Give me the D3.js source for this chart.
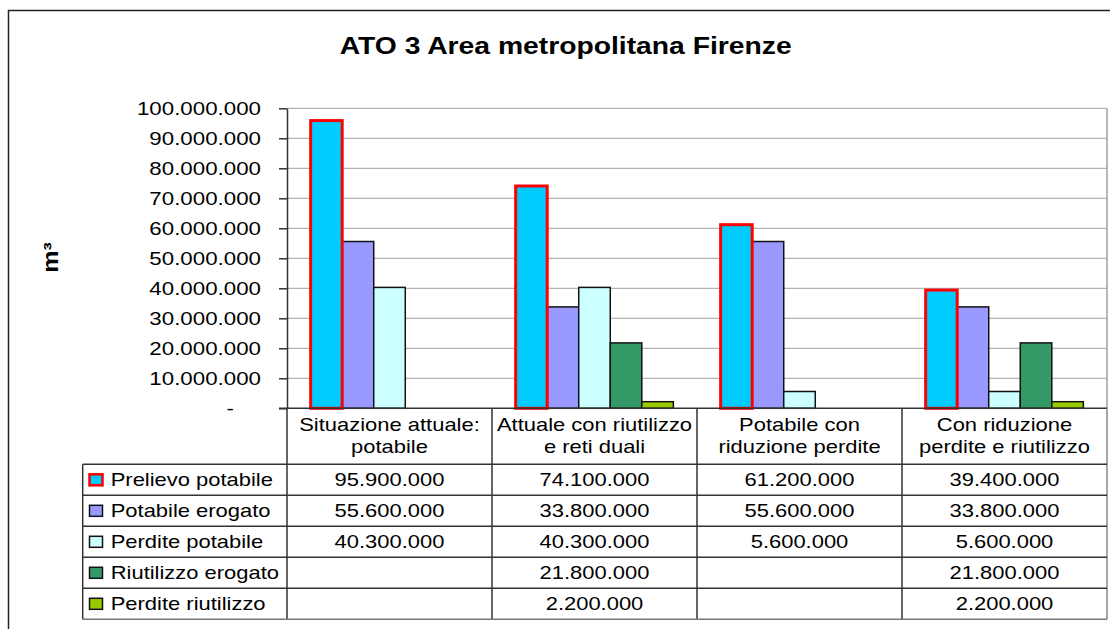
<!DOCTYPE html>
<html>
<head>
<meta charset="utf-8">
<script src="https://cdn.jsdelivr.net/npm/d3@7"></script>
<style>
  body { margin: 0; background: #fff; }
  text { font-family: "Liberation Sans", Arial, sans-serif; fill: #000; }
</style>
</head>
<body>
<script>
// ---- DATA ----
const title = "ATO 3 Area metropolitana Firenze";
const yAxisLabel = "m³";
const categoryLines = [
  ["Situazione attuale:", "potabile"],
  ["Attuale con riutilizzo", "e reti duali"],
  ["Potabile con", "riduzione perdite"],
  ["Con riduzione", "perdite e riutilizzo"]
];
const seriesNames = ["Prelievo potabile", "Potabile erogato", "Perdite potabile", "Riutilizzo erogato", "Perdite riutilizzo"];
const seriesColors = ["#00CCFF", "#9999FF", "#CCFFFF", "#339966", "#99CC00"];
const prelievoPotabile   = [95900000, 74100000, 61200000, 39400000];
const potabileErogato    = [55600000, 33800000, 55600000, 33800000];
const perditePotabile    = [40300000, 40300000, 5600000, 5600000];
const riutilizzoErogato  = [null, 21800000, null, 21800000];
const perditeRiutilizzo  = [null, 2200000, null, 2200000];
const seriesValues = [prelievoPotabile, potabileErogato, perditePotabile, riutilizzoErogato, perditeRiutilizzo];
const yTickValues = [0, 10000000, 20000000, 30000000, 40000000, 50000000, 60000000, 70000000, 80000000, 90000000, 100000000];

// ---- SETUP ----
const W = 1110, H = 629;
const SX = 1.22; // horizontal text stretch seen in the reference
const it = d3.formatLocale({decimal: ",", thousands: ".", grouping: [3], currency: ["€", ""]});
const fmt = it.format(",");

const svg = d3.select("body").append("svg").attr("width", W).attr("height", H);

const plotL = 287, plotR = 1107, plotT = 108.3, plotB = 408.3;
const y = d3.scaleLinear().domain([0, 100000000]).range([plotB, plotT]);
const x0 = d3.scaleBand().domain(d3.range(categoryLines.length)).range([plotL, plotR]).padding(0);
const bw = x0.bandwidth();
const gap = bw / 6.5 * 1.5;
const x1 = d3.scaleBand().domain(d3.range(seriesNames.length)).range([gap / 2, bw - gap / 2]).padding(0);

const tableTop = plotB, headerBottom = 464.3, tableBottom = 619.3, legendLeft = 82.7;
const rowScale = d3.scaleBand().domain(d3.range(seriesNames.length)).range([headerBottom, tableBottom]);

function stext(g, str, x, yy, opts = {}) {
  const t = g.append("text")
    .attr("transform", `translate(${x},${yy}) scale(${opts.sx || SX},1)` + (opts.rotate ? ` rotate(${opts.rotate})` : ""))
    .attr("text-anchor", opts.anchor || "start")
    .style("font-size", (opts.size || 18) + "px")
    .text(str);
  if (opts.bold) t.style("font-weight", "bold");
  if (opts.dy) t.attr("dy", opts.dy);
  return t;
}

// outer border
svg.append("rect").attr("x", 8.5).attr("y", 10.5).attr("width", 1300).attr("height", 800)
  .attr("fill", "none").attr("stroke", "#222").attr("stroke-width", 1.5);

// title
stext(svg, title, 565.7, 54.3, {anchor: "middle", size: 23, bold: true, sx: 1.23});

// y label
stext(svg, yAxisLabel, 50, 257.5, {anchor: "middle", size: 25, bold: true, sx: 0.85, rotate: -90, dy: "0.36em"});

// gridlines
svg.append("g").selectAll("line").data(yTickValues.filter(d => d > 0)).join("line")
  .attr("x1", plotL).attr("x2", plotR)
  .attr("y1", d => y(d)).attr("y2", d => y(d))
  .attr("stroke", "#a0a0a0").attr("stroke-width", 1);
// plot right border
svg.append("line").attr("x1", plotR).attr("x2", plotR).attr("y1", plotT).attr("y2", plotB)
  .attr("stroke", "#a0a0a0").attr("stroke-width", 1.5);

// bars (draw red-bordered series last)
const barData = [];
[1, 2, 3, 4, 0].forEach(j => {
  seriesValues[j].forEach((v, i) => { if (v != null) barData.push({i, j, v}); });
});
svg.append("g").selectAll("rect").data(barData).join("rect")
  .attr("x", d => x0(d.i) + x1(d.j))
  .attr("width", x1.bandwidth())
  .attr("y", d => y(d.v))
  .attr("height", d => y(0) - y(d.v))
  .attr("fill", d => seriesColors[d.j])
  .attr("stroke", d => d.j === 0 ? "#FF0000" : "#111")
  .attr("stroke-width", d => d.j === 0 ? 3 : 1.5);

// y axis
const yAxis = d3.axisLeft(y).tickValues(yTickValues).tickSize(8).tickSizeOuter(0)
  .tickFormat(d => d === 0 ? "-" : fmt(d));
const ya = svg.append("g").attr("transform", `translate(${plotL},0)`).call(yAxis);
ya.select(".domain").attr("stroke", "#333").attr("stroke-width", 1.5);
ya.selectAll(".tick line").attr("stroke", "#333").attr("stroke-width", 1.5);
ya.selectAll(".tick text")
  .attr("x", null).attr("dy", "0.34em")
  .attr("transform", d => `translate(${d === 0 ? -53 : -26},0) scale(${SX + 0.02},1)`)
  .attr("text-anchor", "end")
  .style("font-size", "18px").style("font-family", '"Liberation Sans", Arial, sans-serif')
  .attr("fill", "#000");

// ---- DATA TABLE ----
const tg = svg.append("g");
const lineColor = "#333";
// top line (axis baseline)
tg.append("line").attr("x1", plotL - 8).attr("x2", plotR).attr("y1", tableTop).attr("y2", tableTop)
  .attr("stroke", lineColor).attr("stroke-width", 1.5);
// column verticals
tg.selectAll("line.col").data(d3.range(categoryLines.length + 1)).join("line").attr("class", "col")
  .attr("x1", d => plotL + d * bw).attr("x2", d => plotL + d * bw)
  .attr("y1", tableTop).attr("y2", tableBottom)
  .attr("stroke", d => d === categoryLines.length ? "#888" : lineColor).attr("stroke-width", 1.5);
// legend column left
tg.append("line").attr("x1", legendLeft).attr("x2", legendLeft).attr("y1", headerBottom).attr("y2", tableBottom)
  .attr("stroke", lineColor).attr("stroke-width", 1.5);
// row horizontals
const rowLines = [headerBottom].concat(seriesNames.map((s, k) => rowScale(k) + rowScale.bandwidth()));
tg.selectAll("line.row").data(rowLines).join("line").attr("class", "row")
  .attr("x1", legendLeft).attr("x2", plotR)
  .attr("y1", d => d).attr("y2", d => d)
  .attr("stroke", (d, k) => k === rowLines.length - 1 ? "#777" : lineColor).attr("stroke-width", 1.5);

// category headers
categoryLines.forEach((lines, i) => {
  const cx = x0(i) + bw / 2;
  stext(tg, lines[0], cx, 430.5, {anchor: "middle"});
  stext(tg, lines[1], cx, 453, {anchor: "middle"});
});

// legend + values
seriesNames.forEach((name, j) => {
  const cy = rowScale(j) + rowScale.bandwidth() / 2;
  tg.append("rect")
    .attr("x", 89.5).attr("y", cy - 5.5).attr("width", 13).attr("height", 11)
    .attr("fill", seriesColors[j])
    .attr("stroke", j === 0 ? "#FF0000" : "#111")
    .attr("stroke-width", j === 0 ? 2.5 : 1.5);
  stext(tg, name, 110.7, cy + 6.5);
  seriesValues[j].forEach((v, i) => {
    if (v != null) stext(tg, fmt(v), x0(i) + bw / 2, cy + 6.5, {anchor: "middle"});
  });
});
</script>
</body>
</html>
